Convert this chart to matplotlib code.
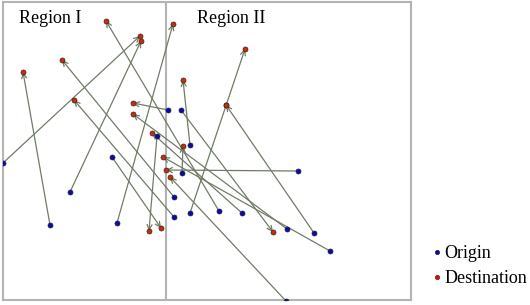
import numpy as np
import matplotlib.pyplot as plt
from matplotlib.lines import Line2D

# origin -> destination (x right, y down)
ox = [3, 70, 50, 168, 181, 190, 174, 174, 190, 314, 286, 117, 157, 112, 182, 298, 219, 242, 287, 330]
oy = [163, 192, 225, 110, 110, 145, 197, 217, 213, 233, 301, 223, 136, 157, 173, 171, 211, 213, 229, 251]
dx = [140, 141, 23, 133, 273, 183, 62, 74, 245, 226, 170, 173, 149, 161, 183, 166, 106, 152, 133, 163]
dy = [36, 41, 72, 103, 232, 80, 60, 100, 49, 105, 177, 24, 231, 228, 146, 170, 21, 133, 114, 157]
# extra destination dot on the path of one trip
ex = [226]
ey = [105]

regions = ['Region I', 'Region II']
region_x = [19, 197]
divider = 166

plt.rcParams['font.family'] = ['Liberation Serif', 'DejaVu Serif']

fig = plt.figure(figsize=(5.3, 3.05), dpi=100)
ax = fig.add_axes([3/530, 5/305, 408/530, 298/305])
ax.set_xlim(3, 411)
ax.set_ylim(300, 2)
ax.set_xticks([])
ax.set_yticks([])
for s in ax.spines.values():
    s.set_color('#b4b4b4')
    s.set_linewidth(1.5)
ax.axvline(divider, color='#b4b4b4', lw=1.5)

linecol = '#707c66'
for x0, y0, x1, y1 in zip(ox, oy, dx, dy):
    ax.annotate('', xy=(x1, y1), xytext=(x0, y0),
                arrowprops=dict(arrowstyle='->', color=linecol, lw=0.9,
                                mutation_scale=9, shrinkA=0, shrinkB=0),
                zorder=2)

ax.plot(ox, oy, 'o', ms=3.6, color='#0a0aa8', mec='#202040', mew=0.5, zorder=3)
ax.plot(dx + ex, dy + ey, 'o', ms=3.6, color='#c03010', mec='#402010', mew=0.5, zorder=3)

for name, x in zip(regions, region_x):
    ax.text(x, 18, name, fontsize=13, va='center', ha='left')

handles = [Line2D([], [], ls='', marker='o', ms=3.2, color='#0a0aa8', mec='#202040', mew=0.4),
           Line2D([], [], ls='', marker='o', ms=3.2, color='#d01010', mec='#402010', mew=0.4)]
fig.legend(handles, ['Origin', 'Destination'], loc='center left',
           bbox_to_anchor=(432/530, 1 - 266/305), frameon=False, fontsize=13,
           handlelength=0.5, handletextpad=0.2, labelspacing=0.45, borderpad=0,
           borderaxespad=0)

fig.savefig('out.png', dpi=100)
